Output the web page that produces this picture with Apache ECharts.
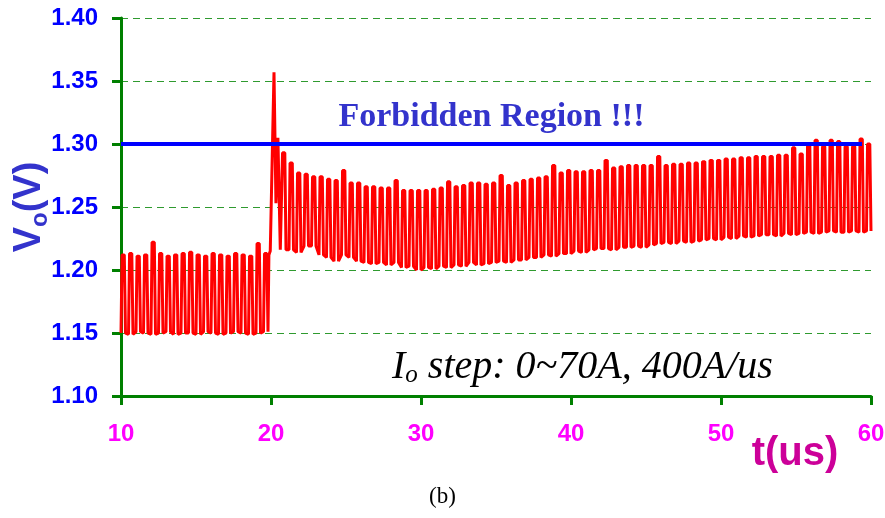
<!DOCTYPE html>
<html>
<head>
<meta charset="utf-8">
<script src="https://cdn.jsdelivr.net/npm/echarts@6/dist/echarts.min.js"></script>
<style>
  html, body { margin: 0; padding: 0; background: #fff; }
  #chart { width: 885px; height: 518px; }
</style>
</head>
<body>
<div id="chart"></div>
<script>
// peaks / valleys of each switching cycle
var preStart = 10.0, prePeriod = 0.5;
var preHigh = [1.212, 1.213, 1.211, 1.212, 1.222, 1.213, 1.211, 1.212, 1.213, 1.214,
               1.212, 1.211, 1.213, 1.212, 1.211, 1.213, 1.212, 1.211, 1.221, 1.213];
var preLow  = [1.150, 1.149, 1.151, 1.150, 1.149, 1.150, 1.151, 1.149, 1.150, 1.150,
               1.149, 1.151, 1.150, 1.149, 1.150, 1.151, 1.150, 1.149, 1.150, 1.151];

// load step overshoot
var jumpT = [19.86, 19.95, 20.20, 20.33, 20.46, 20.62];
var jumpV = [1.212, 1.215, 1.357, 1.253, 1.305, 1.216];

var postStart = 20.7, postPeriod = 0.5;
var postHigh = [
  1.293, 1.285, 1.277, 1.276, 1.274, 1.274, 1.272, 1.271, 1.279, 1.269,
  1.269, 1.266, 1.266, 1.265, 1.265, 1.271, 1.263, 1.263, 1.263, 1.263,
  1.264, 1.265, 1.270, 1.266, 1.267, 1.269, 1.269, 1.268, 1.269, 1.275,
  1.267, 1.269, 1.271, 1.272, 1.273, 1.274, 1.283, 1.277, 1.279, 1.278,
  1.278, 1.279, 1.279, 1.287, 1.281, 1.282, 1.283, 1.283, 1.283, 1.283,
  1.290, 1.283, 1.284, 1.284, 1.285, 1.285, 1.286, 1.287, 1.287, 1.288,
  1.288, 1.289, 1.289, 1.290, 1.290, 1.290, 1.291, 1.291, 1.297, 1.292,
  1.299, 1.303, 1.298, 1.303, 1.302, 1.298, 1.298, 1.304, 1.300
];
var postLow = [
  1.216, 1.216, 1.214, 1.219, 1.219, 1.212, 1.210, 1.207, 1.212, 1.210,
  1.207, 1.206, 1.205, 1.206, 1.204, 1.206, 1.202, 1.203, 1.200, 1.202,
  1.201, 1.203, 1.202, 1.204, 1.203, 1.206, 1.204, 1.205, 1.206, 1.207,
  1.206, 1.208, 1.208, 1.210, 1.210, 1.212, 1.211, 1.213, 1.213, 1.215,
  1.214, 1.216, 1.217, 1.217, 1.216, 1.218, 1.218, 1.219, 1.218, 1.220,
  1.221, 1.222, 1.221, 1.223, 1.222, 1.223, 1.224, 1.225, 1.224, 1.226,
  1.225, 1.227, 1.226, 1.227, 1.228, 1.228, 1.227, 1.229, 1.228, 1.229,
  1.230, 1.229, 1.230, 1.231, 1.230, 1.230, 1.231, 1.230, 1.231
];

var limitV = 1.30, limitEnd = 59.4;

function addCycles(pts, start, period, highs, lows) {
    for (var i = 0; i < highs.length; i ++) {
        var t = start + i * period;
        pts.push([t, lows[i]]);
        pts.push([t + 0.07, highs[i]]);
        pts.push([t + 0.22, highs[i]]);
        pts.push([t + 0.30, lows[i]]);
    }
}

var trace = [];
addCycles(trace, preStart, prePeriod, preHigh, preLow);
for (var i = 0; i < jumpT.length; i ++)
    trace.push([jumpT[i], jumpV[i]]);
addCycles(trace, postStart, postPeriod, postHigh, postLow);

var green = '#008000';
var option = {
    animation: false,
    grid: { left: 121, right: 14, top: 18, bottom: 122, outerBoundsMode: 'none', containLabel: false },
    xAxis: {
        type: 'value',
        min: 10, max: 60, interval: 10,
        name: 't(us)',
        nameLocation: 'end',
        nameGap: -76,
        nameMoveOverlap: false,
        nameTextStyle: {
            color: '#cc0099', fontSize: 40, fontWeight: 'bold',
            fontFamily: 'Liberation Sans', align: 'center',
            verticalAlign: 'top', padding: [38, 0, 0, 0]
        },
        axisLine: { lineStyle: { color: green, width: 3 } },
        axisTick: { length: 9, lineStyle: { color: green, width: 3 } },
        axisLabel: {
            color: '#ff00ff', fontSize: 24, fontWeight: 'bold',
            fontFamily: 'Liberation Sans', margin: 26
        },
        splitLine: { show: false }
    },
    yAxis: {
        type: 'value',
        min: 1.10, max: 1.40, interval: 0.05,
        name: '{v|V}{s|o}{v|(V)}',
        nameLocation: 'middle',
        nameRotate: 90,
        nameGap: 69,
        nameMoveOverlap: false,
        nameTextStyle: {
            rich: {
                v: { color: '#3333cc', fontSize: 38, fontWeight: 'bold', fontFamily: 'Liberation Sans', lineHeight: 44 },
                s: { color: '#3333cc', fontSize: 24, fontWeight: 'bold', fontFamily: 'Liberation Sans', lineHeight: 32, verticalAlign: 'bottom' }
            }
        },
        axisLine: { show: true, lineStyle: { color: green, width: 3 } },
        axisTick: { show: true, length: 9, lineStyle: { color: green, width: 3 } },
        axisLabel: {
            color: '#0000ff', fontSize: 24, fontWeight: 'bold',
            fontFamily: 'Liberation Sans', margin: 23,
            formatter: function (v) { return v.toFixed(2); }
        },
        splitLine: { show: true, lineStyle: { color: '#2f9a2f', width: 1, type: [7, 5] } }
    },
    series: [{
        type: 'line',
        data: trace,
        showSymbol: false,
        sampling: false,
        lineStyle: { color: '#ff0000', width: 3 },
        z: 2,
        markLine: {
            silent: true,
            symbol: ['none', 'none'],
            lineStyle: { color: '#0000ff', width: 4, type: 'solid' },
            label: {
                show: true,
                position: 'insideMiddleTop',
                distance: 10,
                formatter: 'Forbidden Region !!!',
                color: '#3333cc', fontSize: 34, fontWeight: 'bold',
                fontFamily: 'Liberation Serif'
            },
            data: [[{ coord: [10, limitV] }, { coord: [limitEnd, limitV] }]]
        }
    }],
    graphic: [
        {
            type: 'text', left: 392, top: 347,
            style: {
                text: '{i|I}{s|o}{i| step: 0~70A, 400A/us}',
                rich: {
                    i: { fontSize: 40, fontStyle: 'italic', fontFamily: 'Liberation Serif', fill: '#000', lineHeight: 42 },
                    s: { fontSize: 25, fontStyle: 'italic', fontFamily: 'Liberation Serif', fill: '#000', lineHeight: 10, verticalAlign: 'bottom' }
                }
            }
        },
        {
            type: 'text', left: 'center', top: 485,
            style: { text: '(b)', fontSize: 23, fontFamily: 'Liberation Serif', fill: '#000' }
        }
    ]
};

var chart = echarts.init(document.getElementById('chart'));
chart.setOption(option);
</script>
</body>
</html>
